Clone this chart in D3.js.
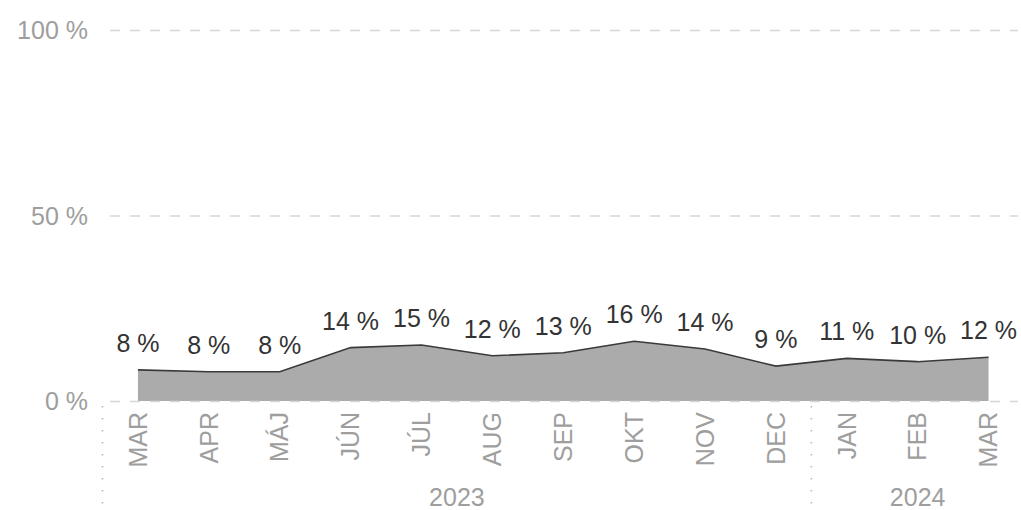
<!DOCTYPE html>
<html>
<head>
<meta charset="utf-8">
<script src="https://cdn.jsdelivr.net/npm/d3@7"></script>
<style>
  html, body { margin: 0; padding: 0; background: #fff; }
  svg { display: block; font-family: "Liberation Sans", Arial, sans-serif; }
</style>
</head>
<body>
<svg id="chart" width="1021" height="510"></svg>
<script>
const months = ["MAR","APR","MÁJ","JÚN","JÚL","AUG","SEP","OKT","NOV","DEC","JAN","FEB","MAR"];
const years = ["2023","2023","2023","2023","2023","2023","2023","2023","2023","2023","2024","2024","2024"];
const values = [8.4, 7.9, 7.9, 14.4, 15.1, 12.2, 13.0, 16.1, 14.0, 9.4, 11.5, 10.6, 11.8];
const valueLabels = ["8 %","8 %","8 %","14 %","15 %","12 %","13 %","16 %","14 %","9 %","11 %","10 %","12 %"];
const yTicks = [0, 50, 100];
const yTickLabels = ["0 %","50 %","100 %"];

const svg = d3.select("#chart");
const idx = d3.range(months.length);

const x = d3.scaleBand().domain(idx).range([102.5, 1024]).paddingInner(0).paddingOuter(0);
const cx = i => x(i) + x.bandwidth() / 2;
const y = d3.scaleLinear().domain([0, 100]).range([401, 30]);

const gridLeft = 110, gridRight = 1018;

// area
const area = d3.area().x(i => cx(i)).y0(y(0)).y1(i => y(values[i]));
svg.append("path").attr("d", area(idx)).attr("fill", "#ababab");

const line = d3.line().x(i => cx(i)).y(i => y(values[i]));
svg.append("path").attr("d", line(idx)).attr("fill", "none")
  .attr("stroke", "#3a3a3a").attr("stroke-width", 1.6);

// y axis gridlines
const yAxis = d3.axisLeft(y).tickValues(yTicks)
  .tickSize(-(gridRight - gridLeft))
  .tickFormat((d, i) => yTickLabels[i]);
const gy = svg.append("g").attr("transform", `translate(${gridLeft},0)`).call(yAxis);
gy.select(".domain").remove();
gy.selectAll(".tick line").attr("stroke", "#d6d6d6").attr("stroke-width", 1.5)
  .attr("stroke-dasharray", "10,10");
gy.selectAll(".tick text").attr("x", -22).attr("fill", "#9e9e9e")
  .attr("font-size", 25).attr("font-family", "Liberation Sans, Arial, sans-serif")
  .attr("dy", "0.35em");

// x axis month labels
const xAxis = d3.axisBottom(x).tickSize(0).tickFormat(i => months[i]);
const gx = svg.append("g").attr("transform", `translate(0,${y(0)})`).call(xAxis);
gx.select(".domain").remove();
gx.selectAll(".tick text")
  .attr("fill", "#9e9e9e").attr("font-size", 25)
  .attr("font-family", "Liberation Sans, Arial, sans-serif")
  .attr("text-anchor", "end")
  .attr("transform", "rotate(-90)")
  .attr("x", -11).attr("y", 0).attr("dy", "0.35em");

// year groups
const yearNames = Array.from(new Set(years));
yearNames.forEach(yr => {
  const ids = idx.filter(i => years[i] === yr);
  const first = ids[0], last = ids[ids.length - 1];
  svg.append("line")
    .attr("x1", x(first)).attr("x2", x(first))
    .attr("y1", 406).attr("y2", 510)
    .attr("stroke", "#b5b5b5").attr("stroke-width", 1.5)
    .attr("stroke-dasharray", "1.5,10.5");
  svg.append("text")
    .attr("x", (cx(first) + cx(last)) / 2).attr("y", 506)
    .attr("text-anchor", "middle").attr("fill", "#9e9e9e").attr("font-size", 25)
    .text(yr);
});

// value labels
svg.append("g").selectAll("text").data(idx).join("text")
  .attr("x", i => cx(i)).attr("y", i => y(values[i]) - 18)
  .attr("text-anchor", "middle").attr("fill", "#333")
  .attr("font-size", 25)
  .text(i => valueLabels[i]);
</script>
</body>
</html>
